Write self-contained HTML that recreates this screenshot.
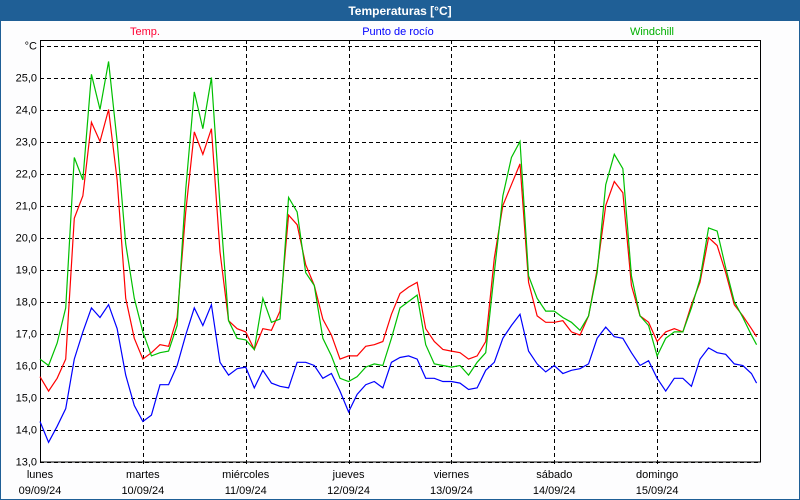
<!DOCTYPE html>
<html><head><meta charset="utf-8"><style>
html,body{margin:0;padding:0;background:#fff}
#wrap{position:relative;width:798px;height:498px;border:1px solid #1f5f96;background:#fdfdfe;overflow:hidden}
#title{position:absolute;left:0;top:0;width:798px;height:20px;background:#1f5f96;color:#fff;font:bold 12px "Liberation Sans",sans-serif;text-align:center;line-height:20px}
svg text{font-family:"Liberation Sans",sans-serif;font-size:11px}
</style></head><body>
<div id="wrap">
<div id="title">Temperaturas [°C]</div>
<svg id="chart" width="798" height="478" style="position:absolute;left:0;top:20px" viewBox="1 21 798 478"></svg>
</div>
<script>
const days = ["lunes","martes","miércoles","jueves","viernes","sábado","domingo"];
const dates = ["09/09/24","10/09/24","11/09/24","12/09/24","13/09/24","14/09/24","15/09/24"];
const yTicks = [13,14,15,16,17,18,19,20,21,22,23,24,25];
const tempValues = [15.65,15.2,15.6,16.2,20.6,21.3,23.6,23.0,24.0,21.8,18.1,16.85,
16.2,16.4,16.65,16.6,17.5,20.8,23.3,22.6,23.4,19.55,17.4,17.15,
17.05,16.5,17.15,17.1,17.7,20.7,20.4,19.15,18.5,17.45,16.95,16.2,
16.3,16.3,16.6,16.65,16.75,17.6,18.25,18.45,18.6,17.15,16.75,16.5,
16.45,16.4,16.2,16.3,16.75,19.35,21.0,21.65,22.3,18.6,17.55,17.35,
17.35,17.4,17.05,16.95,17.55,19.0,21.0,21.75,21.4,18.5,17.55,17.35,
16.75,17.05,17.15,17.05,17.9,18.6,20.0,19.75,18.9,17.9,17.55,17.15,16.9];
const dewValues = [14.25,13.6,14.1,14.65,16.2,17.05,17.8,17.5,17.9,17.15,15.7,14.75,
14.25,14.45,15.4,15.4,16.0,16.95,17.8,17.25,17.9,16.1,15.7,15.9,
15.95,15.3,15.85,15.45,15.35,15.3,16.1,16.1,16.0,15.6,15.75,15.2,
14.55,15.1,15.4,15.5,15.3,16.1,16.25,16.3,16.2,15.6,15.6,15.5,
15.5,15.45,15.25,15.3,15.85,16.1,16.85,17.25,17.6,16.45,16.05,15.8,
16.0,15.75,15.85,15.9,16.05,16.85,17.2,16.9,16.85,16.4,16.0,16.15,
15.6,15.2,15.6,15.6,15.35,16.2,16.55,16.4,16.35,16.05,16.0,15.75,15.45];
const chillValues = [16.2,16.0,16.7,17.8,22.5,21.8,25.1,24.0,25.5,23.0,19.8,18.1,
17.05,16.3,16.4,16.45,17.25,21.5,24.55,23.4,25.0,21.0,17.4,16.85,
16.8,16.5,18.1,17.35,17.45,21.25,20.8,18.9,18.5,16.85,16.3,15.6,
15.5,15.65,15.95,16.05,16.0,16.85,17.8,18.0,18.2,16.65,16.05,16.0,
15.95,16.0,15.7,16.1,16.4,18.9,21.3,22.5,23.0,18.8,18.1,17.7,
17.7,17.5,17.35,17.1,17.55,18.9,21.65,22.6,22.15,18.8,17.55,17.25,
16.3,16.85,17.05,17.05,17.8,18.7,20.3,20.2,19.05,18.0,17.5,16.95,16.65];

const svg=document.getElementById('chart');
const NS='http://www.w3.org/2000/svg';
const X0=40,X1=760,Y0=40,YB=461.5,PPD=32;
const dayW=(X1-X0)/7;
function yScale(t){return YB-(t-13)*PPD;}
function xScale(i){return X0+i*dayW/12;}
function mk(tag,attrs){const e=document.createElementNS(NS,tag);for(const k in attrs)e.setAttribute(k,attrs[k]);svg.appendChild(e);return e;}

const bg=mk('rect',{x:X0,y:Y0,width:X1-X0,height:YB-Y0,fill:'#fff'});



[13,14,15,16,17,18,19,20,21,22,23,24,25,26].forEach(t=>{
  const l=mk('line',{x1:X0,x2:X1,y1:Math.round(yScale(t))+0.5,y2:Math.round(yScale(t))+0.5,stroke:'#000','stroke-dasharray':'4,3','stroke-width':1});
  
  
});
for(let d=1;d<7;d++){
  const x=Math.round(X0+d*dayW)+0.5;
  const l=mk('line',{x1:x,x2:x,y1:Y0,y2:YB+4,stroke:'#000','stroke-dasharray':'4,3','stroke-width':1});
  
  
}
const frame=mk('rect',{x:X0+0.5,y:Y0+0.5,width:X1-X0,height:YB-Y0,fill:'none',stroke:'#000','stroke-width':1});



yTicks.forEach(t=>{
  const tx=mk('text',{x:37,y:yScale(t)+4,'text-anchor':'end',fill:'#000'});
  tx.textContent=t.toFixed(1).replace('.',',');
  
  
});
const unit=mk('text',{x:37,y:yScale(26)+4,'text-anchor':'end',fill:'#000'});
unit.textContent='°C';



days.forEach((d,i)=>{
  const x=X0+i*dayW;
  const a=mk('text',{x:x,y:478,'text-anchor':'middle',fill:'#000'});
  a.textContent=d;
  
  
  const b=mk('text',{x:x,y:494,'text-anchor':'middle',fill:'#000'});
  b.textContent=dates[i];
  
  
});

function series(vals,color,name){
  const pts=vals.map((v,i)=>xScale(Math.min(i,83.6))+','+yScale(v).toFixed(1)).join(' ');
  const p=mk('polyline',{points:pts,fill:'none',stroke:color,'stroke-width':1.2});
  
  
}
series(dewValues,'#0000ff','dew-point-line');
series(tempValues,'#ff0000','temp-line');
series(chillValues,'#00c000','windchill-line');

const legend=[['Temp.','#ff0033',145,'legend-temp'],['Punto de rocío','#0000ff',398,'legend-dew-point'],['Windchill','#00b000',652,'legend-windchill']];
legend.forEach(l=>{
  const t=mk('text',{x:l[2],y:35,'text-anchor':'middle',fill:l[1]});
  t.textContent=l[0];
  
  
});
</script>
</body></html>
